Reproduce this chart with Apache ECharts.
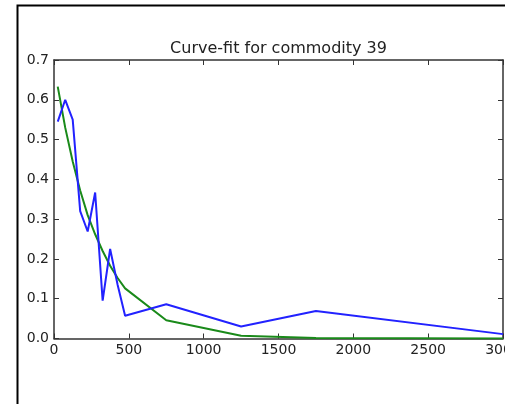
<!DOCTYPE html>
<html>
<head>
<meta charset="utf-8">
<script src="https://cdn.jsdelivr.net/npm/echarts@6/dist/echarts.min.js"></script>
<style>
  html, body { margin: 0; padding: 0; background: #fff; }
  #chart { width: 505px; height: 404px; }
</style>
</head>
<body>
<div id="chart"></div>
<script>
// Bin centres (quantity) shared by both curves
var binCentres = [25, 75, 125, 175, 225, 275, 325, 375, 425, 475, 750, 1250, 1750, 3000];
// Observed share per bin
var observed = [0.545, 0.600, 0.550, 0.320, 0.269, 0.367, 0.095, 0.225, 0.135, 0.057, 0.086, 0.030, 0.069, 0.011];
// Fitted curve values at the same bins
var fitted = [0.633, 0.530, 0.445, 0.372, 0.310, 0.262, 0.220, 0.183, 0.152, 0.126, 0.046, 0.007, 0.001, 0.000];

var titleText = 'Curve-fit for commodity 39';
var xTicks = { min: 0, max: 3000, step: 500 };
var yTicks = { min: 0, max: 0.7, step: 0.1 };

function pairs(xs, ys) {
  return xs.map(function (x, i) { return [x, ys[i]]; });
}

var frameColor = '#333';
var font = 'DejaVu Sans';

function xAxisCfg(pos, showLabels) {
  return {
    type: 'value', position: pos,
    min: xTicks.min, max: xTicks.max, interval: xTicks.step,
    axisLine: { show: true, onZero: false, lineStyle: { color: frameColor, width: 1.5 } },
    axisTick: { show: true, inside: true, length: 5, lineStyle: { color: frameColor, width: 1 } },
    axisLabel: { show: showLabels, color: '#222', fontFamily: font, fontSize: 14, margin: 5,
                 showMaxLabel: true, hideOverlap: false,
                 formatter: function (v) { return String(v); } },
    splitLine: { show: false }
  };
}
function yAxisCfg(pos, showLabels) {
  return {
    type: 'value', position: pos,
    min: yTicks.min, max: yTicks.max, interval: yTicks.step,
    axisLine: { show: true, onZero: false, lineStyle: { color: frameColor, width: 1.5 } },
    axisTick: { show: true, inside: true, length: 5, lineStyle: { color: frameColor, width: 1 } },
    axisLabel: { show: showLabels, color: '#222', fontFamily: font, fontSize: 14, margin: 5,
                 formatter: function (v) { return v.toFixed(1); } },
    splitLine: { show: false }
  };
}

var chart = echarts.init(document.getElementById('chart'), null, { renderer: 'canvas' });
chart.setOption({
  animation: false,
  backgroundColor: '#fff',
  graphic: [
    {
      type: 'rect', left: 15, top: 3, silent: true,
      shape: { x: 0, y: 0, width: 500, height: 420 },
      style: { fill: 'none', stroke: '#000', lineWidth: 2 }
    },
    {
      type: 'text', x: 278.5, y: 49, silent: true,
      style: {
        text: titleText, fontFamily: font, fontSize: 16, fill: '#222',
        align: 'center', verticalAlign: 'middle'
      }
    }
  ],
  grid: { left: 54, right: 2, top: 60, bottom: 65.5, containLabel: false, outerBoundsMode: 'none' },
  xAxis: [xAxisCfg('bottom', true), xAxisCfg('top', false)],
  yAxis: [yAxisCfg('left', true), yAxisCfg('right', false)],
  series: [
    {
      type: 'line', name: 'observed', data: pairs(binCentres, observed),
      showSymbol: false, symbol: 'none',
      lineStyle: { color: '#2222ff', width: 2 }, z: 3
    },
    {
      type: 'line', name: 'fitted', data: pairs(binCentres, fitted),
      showSymbol: false, symbol: 'none',
      lineStyle: { color: '#1a8a1a', width: 2 }, z: 2
    }
  ]
});
</script>
</body>
</html>
